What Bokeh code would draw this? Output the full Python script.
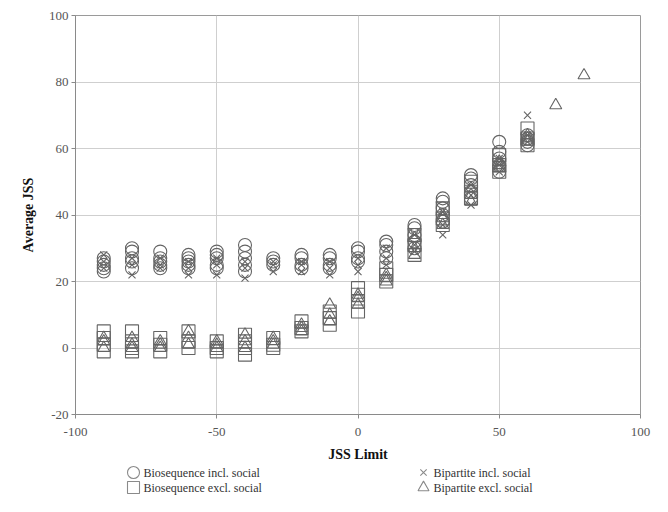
from bokeh.plotting import figure
from bokeh.models import FixedTicker, ColumnDataSource, Range1d
from bokeh.layouts import column
from bokeh.embed import file_html
from bokeh.resources import INLINE
from bokeh.core.properties import value

# JSS limit positions
x_limits = [-90, -80, -70, -60, -50, -40, -30, -20, -10, 0, 10, 20, 30, 40, 50, 60]
x_limits_tri = x_limits + [70, 80]

# Average JSS values (several runs per limit)
bio_incl = [
    [23, 24, 25, 26, 27], [24, 26, 27, 29, 30], [24, 25, 26, 27, 29], [24, 25, 26, 27, 28],
    [24, 25, 27, 28, 29], [23, 25, 27, 29, 31], [25, 26, 27], [24, 25, 27, 28],
    [24, 25, 27, 28], [26, 27, 29, 30], [27, 29, 31, 32], [30, 32, 34, 36, 37],
    [38, 40, 42, 44, 45], [45, 47, 49, 51, 52], [53, 55, 57, 59, 62], [61, 62, 63, 64],
]
bip_incl = [
    [24, 26, 28], [22, 25, 27], [24, 25, 27], [22, 24, 26],
    [22, 25, 27], [21, 24, 26], [23, 25, 26], [23, 25, 26],
    [22, 24, 26], [23, 25, 27], [25, 27, 30], [29, 31, 34],
    [34, 37, 41], [43, 46, 49], [53, 55, 57], [62, 64, 70],
]
bio_excl = [
    [-1, 1, 3, 5], [-1, 0, 2, 5], [-1, 1, 3], [0, 2, 5],
    [-1, 0, 2], [-2, 0, 2, 4], [0, 1, 3], [5, 6, 8],
    [7, 9, 11], [11, 14, 16, 18], [20, 22, 24], [28, 31, 34],
    [37, 39, 42], [45, 47, 50], [53, 55, 58], [61, 63, 66],
]
bip_excl = [
    [0, 2, 3], [0, 1, 3], [0, 1, 2], [1, 3, 5],
    [0, 1, 2], [0, 2, 4], [1, 2, 3], [5, 6, 7],
    [8, 10, 13], [13, 15, 16], [20, 21, 22], [28, 30, 33],
    [37, 39, 40], [44, 46, 48], [54, 55, 56], [62, 63, 64],
    [73], [82],
]

series_names = ["Biosequence incl. social", "Biosequence excl. social",
                "Bipartite incl. social", "Bipartite excl. social"]
series_markers = ["circle", "square", "x", "triangle"]
x_ticks = [-100, -50, 0, 50, 100]
y_ticks = [-20, 0, 20, 40, 60, 80, 100]
x_tick_labels = ["-100", "-50", "0", "50", "100"]
y_tick_labels = ["-20", "0", "20", "40", "60", "80", "100"]

FONT = "Liberation Serif"
MARK = "#646464"
W = 652
H_MAIN = 464
H_LEG = 32
FRAME_L, FRAME_R = 75, 640


def flatten(xs, groups):
    fx, fy = [], []
    for x, vals in zip(xs, groups):
        for v in vals:
            fx.append(x)
            fy.append(v)
    return ColumnDataSource(dict(x=fx, y=fy))


p = figure(width=W, height=H_MAIN, x_range=(-100, 100), y_range=(-20, 100),
           output_backend="svg", toolbar_location=None,
           min_border_left=FRAME_L, min_border_right=W - FRAME_R, min_border_top=15,
           min_border_bottom=H_MAIN - 414)
p.background_fill_color = "white"
p.border_fill_color = "white"
p.outline_line_color = "#9a9a9a"
p.outline_line_width = 1

sizes = {"circle": 13, "square": 13, "x": 10, "triangle": 12}
for data, xs, mk in [(bio_incl, x_limits, "circle"), (bio_excl, x_limits, "square"),
                     (bip_incl, x_limits, "x"), (bip_excl, x_limits_tri, "triangle")]:
    p.scatter("x", "y", source=flatten(xs, data), marker=mk, size=sizes[mk],
              fill_color=None, line_color=MARK, line_width=1.1)

p.xaxis.ticker = FixedTicker(ticks=x_ticks)
p.yaxis.ticker = FixedTicker(ticks=y_ticks)
p.xaxis.major_label_overrides = dict(zip(x_ticks, x_tick_labels))
p.yaxis.major_label_overrides = dict(zip(y_ticks, y_tick_labels))
p.xgrid.ticker = FixedTicker(ticks=[-50, 0, 50])
p.ygrid.ticker = FixedTicker(ticks=[0, 20, 40, 60, 80])
for g in (p.xgrid, p.ygrid):
    g.grid_line_color = "#cfcfcf"
    g.grid_line_width = 1

for ax in (p.xaxis, p.yaxis):
    ax.axis_line_color = "#8a8a8a"
    ax.major_tick_line_color = "#8a8a8a"
    ax.major_tick_out = 4
    ax.major_tick_in = 0
    ax.minor_tick_line_color = None
    ax.major_label_text_font = FONT
    ax.major_label_text_font_size = "13px"
    ax.major_label_text_color = "#555555"
    ax.axis_label_text_font = FONT
    ax.axis_label_text_font_size = "14px"
    ax.axis_label_text_font_style = "bold"
    ax.axis_label_text_color = "#111111"

p.xaxis.axis_label = "JSS Limit"
p.yaxis.axis_label = "Average JSS"
p.xaxis.major_label_standoff = 9
p.xaxis.axis_label_standoff = 8
p.yaxis.major_label_standoff = 3
p.yaxis.axis_label_standoff = 10

# Legend panel beneath the plot (its frame lines up with the plot frame: page pixels)
q = figure(width=W, height=H_LEG, x_range=Range1d(FRAME_L, FRAME_R), y_range=Range1d(H_LEG, 0),
           output_backend="svg", toolbar_location=None,
           min_border_left=FRAME_L, min_border_right=W - FRAME_R, min_border_top=0,
           min_border_bottom=0)
q.axis.visible = False
q.grid.visible = False
q.outline_line_color = None
q.background_fill_color = "white"
q.border_fill_color = "white"

leg_cols = [133, 133, 423, 423]
leg_rows = [8, 23, 8, 23]
leg_sizes = {"circle": 12, "square": 12, "x": 9, "triangle": 11}
for name, mk, lx, ly in zip(series_names, series_markers, leg_cols, leg_rows):
    q.scatter([lx], [ly], marker=mk, size=leg_sizes[mk], fill_color=None,
              line_color="#8a8a8a", line_width=1.1)
    q.text([lx + 10], [ly], text=[name], text_font=value(FONT), text_font_size="12px",
           text_color="#333333", text_baseline="middle", text_align="left")

layout = column(p, q, spacing=0)
open("out.html", "w").write(file_html(layout, INLINE))
